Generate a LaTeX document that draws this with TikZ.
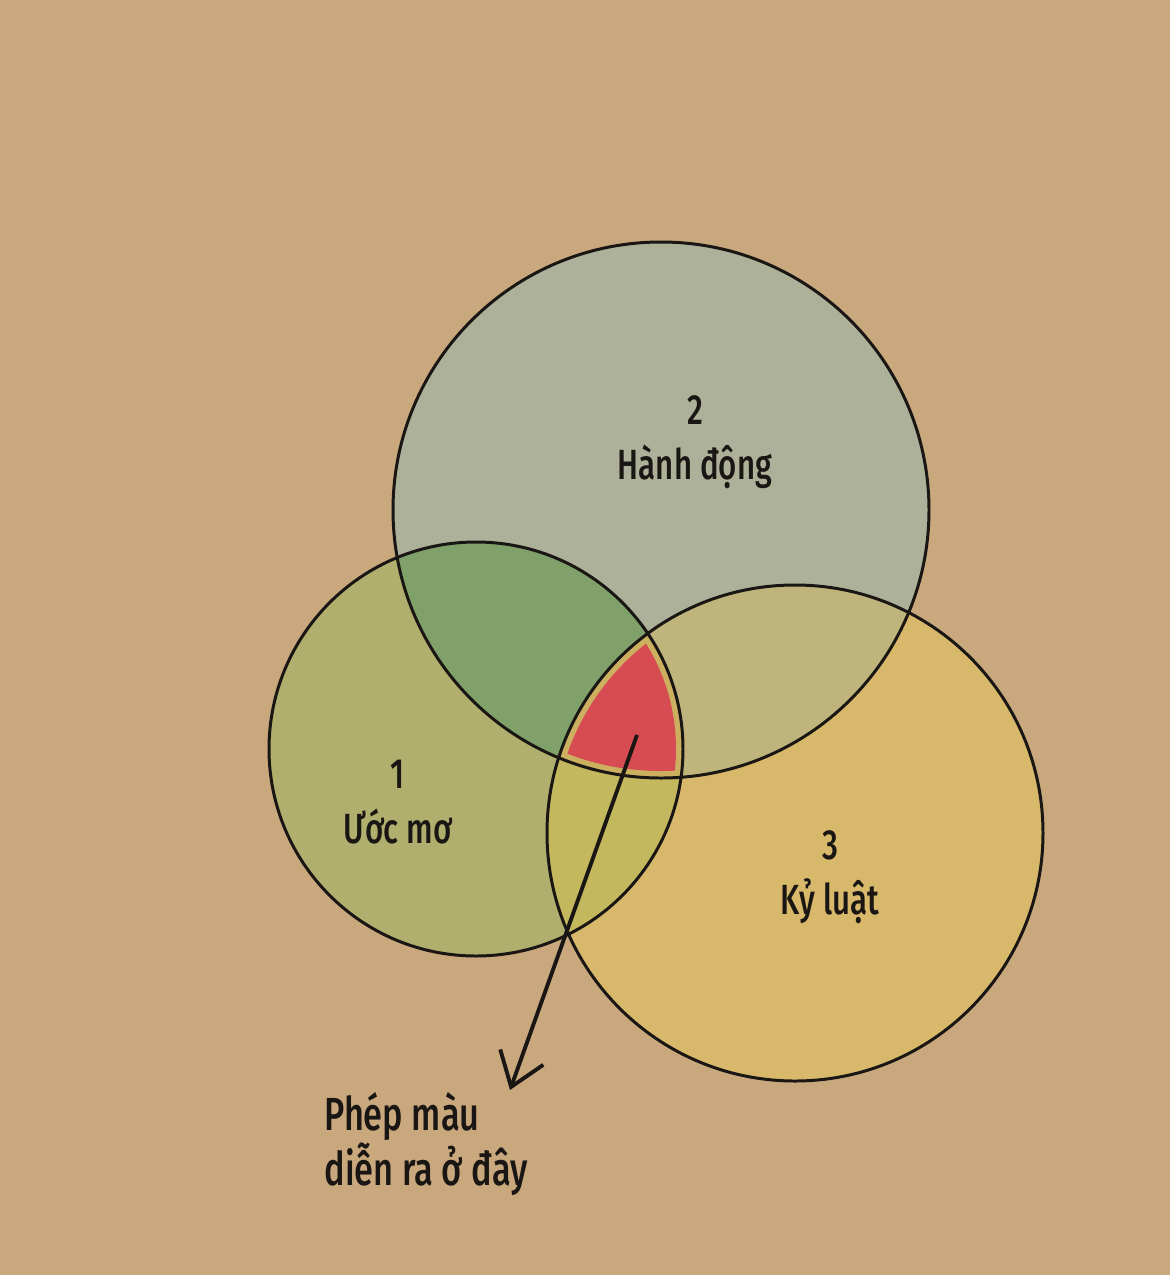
\documentclass[tikz,border=0pt]{standalone}
\usepackage{fontspec}
\setmainfont{Fira Sans}[FakeStretch=0.74, UprightFont=* Medium]
\usetikzlibrary{arrows.meta,positioning}
\definecolor{paper}{RGB}{201,168,126}
\definecolor{dreamcol}{RGB}{176,175,110}
\definecolor{actcol}{RGB}{174,177,153}
\definecolor{disccol}{RGB}{216,184,106}
\definecolor{dreamact}{RGB}{128,162,106}
\definecolor{actdisc}{RGB}{190,180,124}
\definecolor{dreamdisc}{RGB}{196,184,94}
\definecolor{rimcol}{RGB}{204,176,96}
\definecolor{magiccol}{RGB}{214,76,82}
\definecolor{ink}{RGB}{25,22,20}
\begin{document}
\begin{tikzpicture}[
x=0.01cm, y=-0.01cm,
ring/.style={draw=ink, line width=0.85pt},
lbl/.style={text=ink, align=center, font=\fontsize{12}{15.5}\selectfont},
>={Straight Barb[length=9pt,width=13pt,line width=1.1pt]}
]
\useasboundingbox (0,0) rectangle (1170,1275);
\fill[paper] (0,0) rectangle (1170,1275);
\coordinate (dream) at (476,749);
\coordinate (act) at (661,510);
\coordinate (disc) at (795,833);
% single circles
\fill[dreamcol] (dream) circle (207);
\fill[actcol] (act) circle (268);
\fill[disccol] (disc) circle (248);
% overlaps
\begin{scope}
  \clip (dream) circle (207);
  \fill[dreamact] (act) circle (268);
  \fill[dreamdisc] (disc) circle (248);
\end{scope}
\begin{scope}
  \clip (act) circle (268);
  \fill[actdisc] (disc) circle (248);
\end{scope}
\begin{scope}
  \clip (dream) circle (207);
  \clip (act) circle (268);
  \fill[rimcol] (disc) circle (248);
\end{scope}
\begin{scope}
  \clip (dream) circle (200);
  \clip (act) circle (261);
  \fill[magiccol] (disc) circle (241);
\end{scope}
% outlines
\draw[ring] (dream) circle (207);
\draw[ring] (act) circle (268);
\draw[ring] (disc) circle (248);
% labels
\node[lbl] (actlbl) at (695,442) {2\\Hành động};
\node[lbl] (dreamlbl) at (398,802) {1\\Ước mơ};
\node[lbl] (disclbl) at (830,877) {3\\Kỷ luật};
\coordinate (magic) at (637,735);
\coordinate (tip) at (510,1090);
\draw[->, ink, line width=1.1pt] (magic) -- (tip);
\node[lbl, align=left, anchor=north west, font=\fontsize{13.2}{15.5}\selectfont] (magiclbl) at (312,1080) {Phép màu\\diễn ra ở đây};
\end{tikzpicture}
\end{document}
